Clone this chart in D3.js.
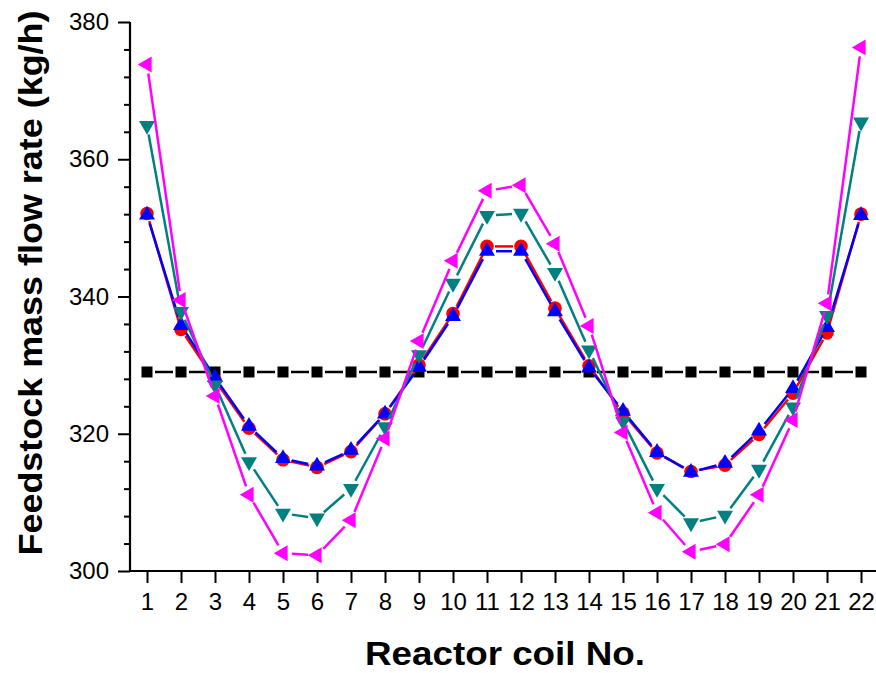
<!DOCTYPE html>
<html>
<head>
<meta charset="utf-8">
<script src="https://d3js.org/d3.v7.min.js"></script>
<style>
  html, body { margin: 0; padding: 0; background: #fff; }
  svg { display: block; }
</style>
</head>
<body>
<svg id="chart" width="876" height="673"></svg>
<script>
// ---- data ----
const coils = d3.range(1, 23);
const yTicks = [300, 320, 340, 360, 380];
const baseline = [329,329,329,329,329,329,329,329,329,329,329,329,329,329,329,329,329,329,329,329,329,329];
const redSeries = [352.1,335.2,327.8,320.8,316.2,315.1,317.4,322.9,330.0,337.5,347.3,347.3,338.3,329.9,323.0,317.2,314.5,315.4,319.9,325.9,334.7,352.0];
const blueSeries = [351.9,335.8,328.2,321.1,316.4,315.3,317.6,322.9,329.7,337.1,346.6,346.6,337.8,329.6,323.3,317.3,314.4,315.7,320.4,326.6,335.5,351.8];
const tealSeries = [364.9,337.8,327.1,315.9,308.4,307.7,312.0,321.0,331.5,341.9,351.8,352.1,343.5,332.2,321.8,312.0,307.0,308.1,314.8,323.9,337.2,365.4];
const magentaSeries = [373.8,339.5,325.5,311.1,302.6,302.3,307.4,319.3,333.5,345.2,355.4,356.2,347.7,335.7,320.2,308.5,302.8,303.9,311.1,322.0,339.0,376.3];

// ---- layout ----
const svg = d3.select("#chart");
const x = d3.scaleLinear().domain([0.5, 22.5]).range([130, 878]);
const y = d3.scaleLinear().domain([300, 380]).range([571, 22]);
const font = "'Liberation Sans', Arial, sans-serif";

// axes
const yAxis = d3.axisLeft(y).tickValues(yTicks).tickSize(12).tickPadding(9).tickFormat(d3.format("d"));
const yMinor = d3.axisLeft(y).tickValues(d3.range(300, 381, 4).filter(v => v % 20 !== 0)).tickSize(6).tickFormat("");
const xAxis = d3.axisBottom(x).tickValues(coils).tickSize(12).tickPadding(10).tickFormat(d3.format("d"));

const gx = svg.append("g").attr("transform", `translate(0,${y(300)})`).call(xAxis);
const gy = svg.append("g").attr("transform", `translate(${x(0.5)},0)`).call(yAxis);
const gym = svg.append("g").attr("transform", `translate(${x(0.5)},0)`).call(yMinor);

[gx, gy, gym].forEach(g => {
  g.select(".domain").attr("stroke", "#000").attr("stroke-width", 2.2);
  g.selectAll(".tick line").attr("stroke", "#000").attr("stroke-width", 2);
  g.selectAll(".tick text").attr("font-family", font).attr("font-size", 24).attr("fill", "#000");
});
gym.select(".domain").remove();
gy.select(".domain").attr("d", `M0,${y(380)}V${y(300)}`);
gx.select(".domain").attr("d", `M${x(0.5)},0H${x(22.5)}`);

// titles
svg.append("text")
  .attr("transform", `translate(42,283) rotate(-90)`)
  .attr("text-anchor", "middle")
  .attr("font-family", font).attr("font-weight", "bold").attr("font-size", 34)
  .attr("textLength", 545).attr("lengthAdjust", "spacingAndGlyphs")
  .text("Feedstock mass flow rate (kg/h)");

svg.append("text")
  .attr("x", 505).attr("y", 665)
  .attr("text-anchor", "middle")
  .attr("font-family", font).attr("font-weight", "bold").attr("font-size", 33)
  .attr("textLength", 280).attr("lengthAdjust", "spacingAndGlyphs")
  .text("Reactor coil No.");

// series
const series = [
  { values: baseline, color: "#000000", shape: "square", gap: 8 },
  { values: redSeries, color: "#ff0000", shape: "circle", gap: 8 },
  { values: blueSeries, color: "#0000ff", shape: "up", gap: 9 },
  { values: tealSeries, color: "#008080", shape: "down", gap: 9 },
  { values: magentaSeries, color: "#ff00ff", shape: "left", gap: 9 }
];

const tri = d3.symbol().type(d3.symbolTriangle).size(110)();
const sq = d3.symbol().type(d3.symbolSquare).size(121)();
const circ = d3.symbol().type(d3.symbolCircle).size(145)();

series.forEach(s => {
  const g = svg.append("g");
  const pts = s.values.map((v, i) => [x(coils[i]), y(v)]);
  // line segments with gaps at markers
  for (let i = 0; i < pts.length - 1; i++) {
    const [x0, y0] = pts[i], [x1, y1] = pts[i + 1];
    const dx = x1 - x0, dy = y1 - y0, len = Math.hypot(dx, dy);
    if (len <= 2 * s.gap) continue;
    const ux = dx / len, uy = dy / len;
    g.append("line")
      .attr("x1", x0 + ux * s.gap).attr("y1", y0 + uy * s.gap)
      .attr("x2", x1 - ux * s.gap).attr("y2", y1 - uy * s.gap)
      .attr("stroke", s.color).attr("stroke-width", 2.5);
  }
  const path = s.shape === "square" ? sq : s.shape === "circle" ? circ : tri;
  const rot = s.shape === "down" ? 180 : s.shape === "left" ? -90 : 0;
  g.selectAll("path.m").data(pts).enter().append("path")
    .attr("class", "m")
    .attr("d", path)
    .attr("transform", d => `translate(${d[0]},${d[1]}) rotate(${rot})`)
    .attr("fill", s.color);
});
</script>
</body>
</html>
